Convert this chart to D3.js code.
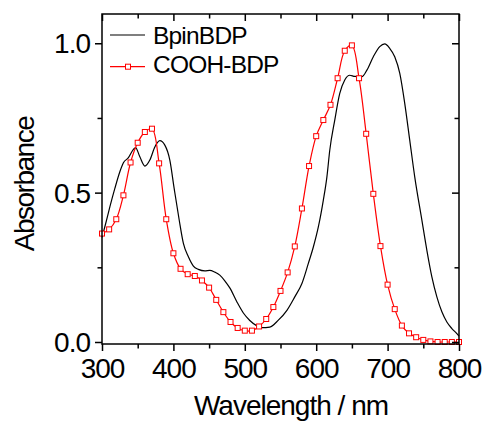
<!DOCTYPE html>
<html>
<head>
<meta charset="utf-8">
<script src="https://cdn.jsdelivr.net/npm/d3@7"></script>
<style>
  html, body { margin: 0; padding: 0; background: #fff; }
  svg { display: block; }
  text { font-family: "Liberation Sans", Arial, sans-serif; fill: #000; }
</style>
</head>
<body>
<svg id="chart" width="486" height="422"></svg>
<script>
/* absorption spectra — BpinBDP vs COOH-BDP */

// data
const bpinNm = [300, 305, 311, 318, 325, 330, 337, 344, 347, 353, 360, 367, 374, 381, 388, 395,
  401, 408, 414, 421, 428, 435, 444, 451, 458, 465, 472, 479, 489, 498, 507, 517, 524, 535,
  547, 559, 570, 580, 589, 596, 603, 610, 615, 619, 626, 633, 640, 647, 654, 664, 671, 680,
  689, 696, 703, 710, 717, 724, 731, 738, 748, 755, 762, 769, 776, 783, 790, 797, 800];
const bpinAbs = [0.350, 0.395, 0.452, 0.514, 0.570, 0.600, 0.617, 0.645, 0.651, 0.620, 0.589, 0.609,
  0.653, 0.674, 0.659, 0.609, 0.515, 0.410, 0.330, 0.285, 0.254, 0.243, 0.238, 0.240, 0.234, 0.224,
  0.205, 0.181, 0.134, 0.097, 0.072, 0.054, 0.048, 0.050, 0.073, 0.106, 0.151, 0.196, 0.263, 0.318,
  0.385, 0.475, 0.553, 0.642, 0.743, 0.832, 0.877, 0.893, 0.889, 0.888, 0.910, 0.955, 0.989, 0.998,
  0.983, 0.955, 0.900, 0.799, 0.676, 0.553, 0.408, 0.307, 0.218, 0.151, 0.101, 0.067, 0.045, 0.028, 0.020];

const coohNm = [300, 310, 320, 330, 340, 350, 360, 370, 380, 390, 400, 410, 420, 430, 440, 450,
  460, 470, 480, 490, 500, 510, 520, 530, 540, 550, 560, 570, 580, 590, 600, 610, 620, 630, 640,
  650, 660, 670, 680, 690, 700, 710, 720, 730, 740, 750, 760, 770, 780, 790, 800];
const coohAbs = [0.363, 0.377, 0.411, 0.491, 0.601, 0.667, 0.703, 0.714, 0.598, 0.411, 0.297, 0.245,
  0.227, 0.221, 0.206, 0.182, 0.141, 0.100, 0.067, 0.047, 0.038, 0.038, 0.052, 0.077, 0.117, 0.171,
  0.233, 0.320, 0.447, 0.589, 0.689, 0.743, 0.794, 0.883, 0.975, 0.993, 0.883, 0.697, 0.496, 0.321,
  0.192, 0.110, 0.055, 0.029, 0.016, 0.007, 0.002, 0.000, 0.000, 0.000, 0.000];

const xMajor = [300, 400, 500, 600, 700, 800];
const xMinor = [350, 450, 550, 650, 750];
const yMajor = [0.0, 0.5, 1.0];
const yMinor = [0.25, 0.75];
const seriesNames = ['BpinBDP', 'COOH-BDP'];

const RED = '#ff0000';
const m = { l: 102, r: 459, t: 14, b: 344 };

const svg = d3.select('#chart');
const x = d3.scaleLinear().domain([300, 800]).range([m.l, m.r]);
const y = d3.scaleLinear().domain([-0.0067, 1.098]).range([m.b, m.t]);

const bpin = bpinNm.map((n, i) => [n, bpinAbs[i]]);
const cooh = coohNm.map((n, i) => [n, coohAbs[i]]);

// ---------- curves ----------
const plot = svg.append('g');
plot.append('path')
  .attr('d', d3.line().x(d => x(d[0])).y(d => y(d[1])).curve(d3.curveMonotoneX)(bpin))
  .attr('fill', 'none').attr('stroke', '#000').attr('stroke-width', 1.2);

plot.append('path')
  .attr('d', d3.line().x(d => x(d[0])).y(d => y(d[1])).curve(d3.curveCatmullRom.alpha(0.5))(cooh))
  .attr('fill', 'none').attr('stroke', RED).attr('stroke-width', 1.2);

const sq = 5;
plot.selectAll('rect.pt').data(cooh).join('rect')
  .attr('class', 'pt')
  .attr('x', d => x(d[0]) - sq / 2).attr('y', d => y(d[1]) - sq / 2)
  .attr('width', sq).attr('height', sq)
  .attr('fill', '#fff').attr('stroke', RED).attr('stroke-width', 1);

// ---------- axes ----------
function styleAxis(g) {
  g.select('.domain').remove();
  g.selectAll('line').attr('stroke', '#000').attr('stroke-width', 1.5);
}
const fmt = d3.format('.1f');
const MAJ = 7, MIN = 4.5;

svg.append('g').attr('transform', `translate(0,${m.b})`)
  .call(d3.axisBottom(x).tickValues(xMajor).tickSize(MAJ).tickPadding(4).tickFormat(d3.format('d')))
  .call(styleAxis)
  .call(g => g.selectAll('text').attr('font-size', 28).attr('letter-spacing', -1)
    .attr('font-family', '"Liberation Sans", Arial, sans-serif').attr('dy', '0.71em').attr('y', 14.5));
svg.append('g').attr('transform', `translate(0,${m.b})`)
  .call(d3.axisBottom(x).tickValues(xMinor).tickSize(MIN).tickFormat(''))
  .call(styleAxis);

svg.append('g').attr('transform', `translate(0,${m.t})`)
  .call(d3.axisTop(x).tickValues(xMajor).tickSize(-MAJ).tickFormat(''))
  .call(styleAxis);
svg.append('g').attr('transform', `translate(0,${m.t})`)
  .call(d3.axisTop(x).tickValues(xMinor).tickSize(-MIN).tickFormat(''))
  .call(styleAxis);

svg.append('g').attr('transform', `translate(${m.l},0)`)
  .call(d3.axisLeft(y).tickValues(yMajor).tickSize(MAJ).tickPadding(5).tickFormat(fmt))
  .call(styleAxis)
  .call(g => g.selectAll('text').attr('font-size', 28).attr('letter-spacing', -1)
    .attr('font-family', '"Liberation Sans", Arial, sans-serif').attr('dy', '0.34em'));
svg.append('g').attr('transform', `translate(${m.l},0)`)
  .call(d3.axisLeft(y).tickValues(yMinor).tickSize(MIN).tickFormat(''))
  .call(styleAxis);

svg.append('g').attr('transform', `translate(${m.r},0)`)
  .call(d3.axisRight(y).tickValues(yMajor).tickSize(-MAJ).tickFormat(''))
  .call(styleAxis);
svg.append('g').attr('transform', `translate(${m.r},0)`)
  .call(d3.axisRight(y).tickValues(yMinor).tickSize(-MIN).tickFormat(''))
  .call(styleAxis);

// frame
svg.append('rect')
  .attr('x', m.l).attr('y', m.t).attr('width', m.r - m.l).attr('height', m.b - m.t)
  .attr('fill', 'none').attr('stroke', '#000').attr('stroke-width', 1.5);

// ---------- titles ----------
svg.append('text').attr('x', 291).attr('y', 415).attr('text-anchor', 'middle')
  .attr('font-size', 28).attr('letter-spacing', -1).text('Wavelength / nm');
svg.append('text').attr('transform', 'translate(33.5,184) rotate(-90)').attr('text-anchor', 'middle')
  .attr('font-size', 28).attr('letter-spacing', -1.5).text('Absorbance');

// ---------- legend ----------
const legend = svg.append('g');
const legRows = [
  { name: seriesNames[0], color: '#000', ly: 35, ty: 43.5, marker: false },
  { name: seriesNames[1], color: RED, ly: 66.7, ty: 73, marker: true },
];
legRows.forEach(r => {
  legend.append('line').attr('x1', 110).attr('x2', 145).attr('y1', r.ly).attr('y2', r.ly)
    .attr('stroke', r.color).attr('stroke-width', 1.2);
  if (r.marker) {
    legend.append('rect').attr('x', 128 - sq / 2).attr('y', r.ly - sq / 2)
      .attr('width', sq).attr('height', sq)
      .attr('fill', '#fff').attr('stroke', RED).attr('stroke-width', 1);
  }
  legend.append('text').attr('x', 153).attr('y', r.ty)
    .attr('font-size', 24.5).attr('letter-spacing', -0.8).text(r.name);
});
</script>
</body>
</html>
